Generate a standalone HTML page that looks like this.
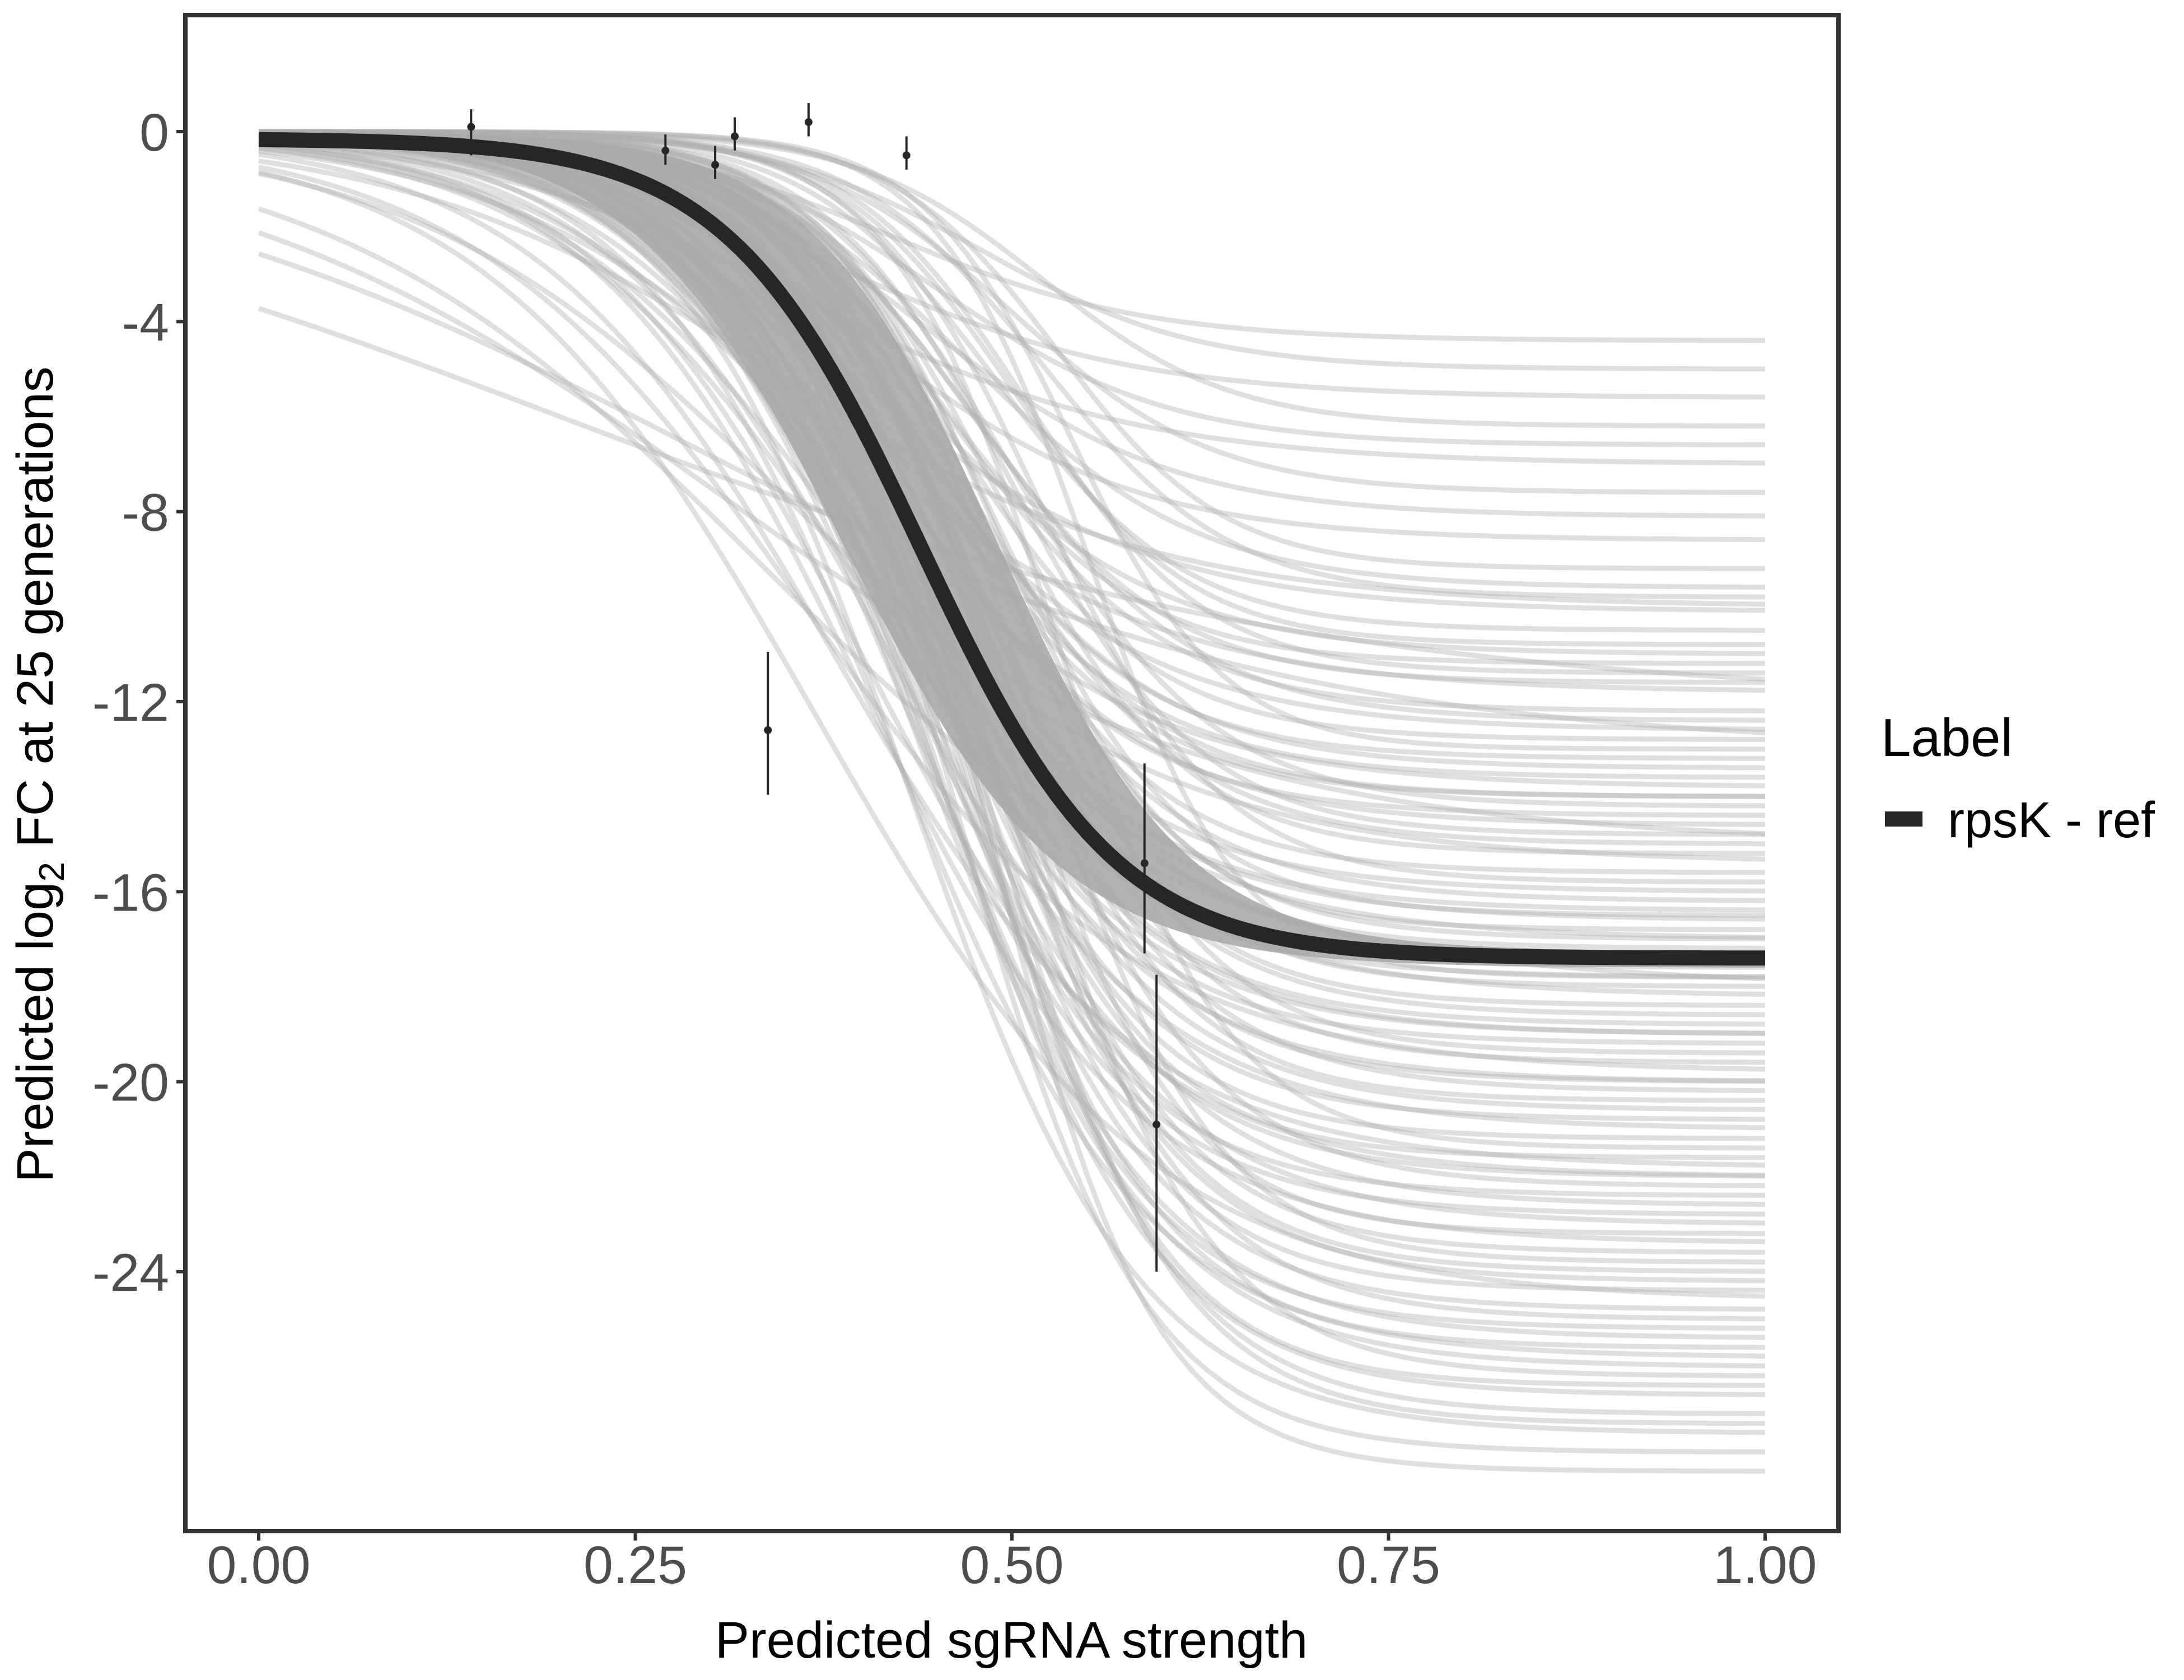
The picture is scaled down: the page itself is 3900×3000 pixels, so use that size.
<!DOCTYPE html>
<html><head><meta charset="utf-8"><style>
html,body{margin:0;padding:0;background:#fff}
svg{display:block}
text{font-family:"Liberation Sans",Arial,sans-serif}
</style></head><body>
<svg id="chart" width="3900" height="3000" viewBox="0 0 3900 3000" xmlns="http://www.w3.org/2000/svg">
<g id="lines"></g>
<g id="band"></g>
<g id="main"></g>
<g id="pts"></g>
<rect x="331" y="27" width="2952" height="2707" fill="none" stroke="#333" stroke-width="8"/>
<g id="axes"></g>
<text x="1806" y="2960" font-size="92" text-anchor="middle" fill="#000">Predicted sgRNA strength</text>
<text transform="translate(94,1383) rotate(-90)" font-size="92" text-anchor="middle" fill="#000">Predicted  log<tspan font-size="64" dy="20">2</tspan><tspan dy="-20"> FC at 25 generations</tspan></text>
<text x="3359" y="1350" font-size="96" fill="#000">Label</text>
<rect x="3366" y="1449" width="67" height="27" fill="#262626"/>
<text x="3478" y="1495" font-size="90" fill="#000">rpsK - ref</text>
</svg>
<script>
const xTicks=[0,0.25,0.5,0.75,1];
const xTickLabels=["0.00","0.25","0.50","0.75","1.00"];
const yTicks=[0,-4,-8,-12,-16,-20,-24];
const yTickLabels=["0","-4","-8","-12","-16","-20","-24"];
const curveA=[-4.4,-5.0,-5.6,-6.2,-6.6,-7.0,-7.6,-8.1,-8.6,-9.2,-9.6,-10.1,-10.5,-11.0,-11.4,-11.8,-12.2,-12.6,-13.0,-13.4,-13.8,-14.2,-14.6,-15.0,-15.4,-15.8,-16.2,-16.6,-17.0,-17.4,-17.8,-18.2,-18.6,-19.0,-19.4,-19.8,-20.2,-20.6,-21.0,-21.4,-21.8,-22.2,-22.6,-23.0,-23.4,-23.8,-24.2,-24.6,-25.0,-25.4,-25.8,-26.2,-26.6,-27.0,-27.4,-27.8,-28.2,-12.0,-15.0,-18.0,-20.0,-22.0,-14.0,-16.5,-19.0,-24.0,-26.0,-10.0,-13.0,-17.0,
-11.2,-12.4,-13.6,-14.8,-15.6,-16.0,-16.8,-17.6,-18.4,-19.2,-20.4,-21.2,-22.4,-23.2,-24.4,-25.2,-26.4,-12.8,-14.4,-15.2,-17.2,-18.8,-19.6,-20.8,-21.6,-22.8,-23.6,-24.8,-10.8,-13.2,-16.4,-18.0,-20.0,-22.0,-25.6,-27.2,-9.8,-11.6,-14.0,-17.8];
const curveM=[0.42,0.48,0.38,0.52,0.45,0.36,0.50,0.44,0.40,0.53,0.47,0.39,0.49,0.43,0.51,0.37,0.46,0.41,0.54,0.44,0.38,0.50,0.42,0.47,0.35,0.52,0.45,0.40,0.48,0.43,0.55,0.39,0.46,0.42,0.50,0.36,0.47,0.44,0.41,0.53,0.38,0.49,0.45,0.43,0.40,0.51,0.46,0.37,0.48,0.44,0.42,0.50,0.45,0.47,0.43,0.46,0.48,0.20,0.30,0.33,0.42,0.40,0.45,0.49,0.41,0.47,0.44,0.34,0.28,0.39,
0.45,0.48,0.43,0.50,0.46,0.41,0.49,0.44,0.47,0.42,0.48,0.45,0.43,0.49,0.46,0.44,0.47,0.46,0.42,0.49,0.45,0.43,0.48,0.44,0.46,0.42,0.47,0.45,0.50,0.44,0.41,0.47,0.45,0.43,0.46,0.48,0.52,0.47,0.44,0.42];
const curveK=[12,14,10,16,13,9,15,12,11,18,13,10,16,12,17,9,14,11,20,13,10,15,12,14,8,17,13,11,15,12,20,10,14,12,16,9,14,13,11,18,10,15,13,12,11,17,14,9,15,13,12,16,14,15,13,16,18,4,6,7,12,11,14,16,12,15,13,8,5,10,
15,14,13,16,15,12,17,14,15,13,16,15,14,17,15,14,16,15,13,16,14,13,15,14,16,13,15,14,17,14,12,15,14,13,15,16,16,15,14,13];
const bandA=[-17.25,-17.6];
const bandM=[0.49,0.39];
const bandK=[16,14];
const mainA=-17.25, mainM=0.44, mainK=15.5, mainOffset=-0.15;
const ptX=[0.141,0.27,0.303,0.316,0.365,0.43,0.338,0.588,0.596];
const ptY=[0.1,-0.4,-0.7,-0.1,0.2,-0.5,-12.6,-15.4,-20.9];
const ptLo=[-0.5,-0.7,-1.0,-0.4,-0.1,-0.8,-13.96,-17.3,-24.0];
const ptHi=[0.47,-0.06,-0.3,0.3,0.6,-0.1,-10.95,-13.3,-17.75];
const NS="http://www.w3.org/2000/svg";
const xs=v=>462+v*2690, ys=v=>235-v*84.83;
function mk(t,p,a){const e=document.createElementNS(NS,t);for(const k in a)e.setAttribute(k,a[k]);p.appendChild(e);return e;}
const lg=(A,k,m,x)=>A/(1+Math.exp(-k*(x-m)));
const lines=document.getElementById('lines');
for(let i=0;i<curveA.length;i++){let d="";for(let j=0;j<=100;j++){const x=j/100;const y=lg(curveA[i],curveK[i],curveM[i],x);d+=(j?"L":"M")+xs(x).toFixed(1)+","+ys(y).toFixed(1);}
const p=mk('path',lines,{d:d,fill:'none',stroke:'#b0b0b0','stroke-opacity':0.4,'stroke-width':9});

}
const band=document.getElementById('band');
let bd="";const N=100;
for(let j=0;j<=N;j++){const x=j/N;bd+=(j?"L":"M")+xs(x).toFixed(1)+","+ys(lg(bandA[0],bandK[0],bandM[0],x)).toFixed(1);}
for(let j=N;j>=0;j--){const x=j/N;bd+="L"+xs(x).toFixed(1)+","+ys(lg(bandA[1],bandK[1],bandM[1],x)).toFixed(1);}
bd+="Z";
const bp=mk('path',band,{d:bd,fill:'#aaaaaa','fill-opacity':0.9});


const main=document.getElementById('main');let d="";
for(let j=0;j<=200;j++){const x=j/200;const y=mainOffset+lg(mainA,mainK,mainM,x);d+=(j?"L":"M")+xs(x).toFixed(1)+","+ys(y).toFixed(1);}
const mp=mk('path',main,{d:d,fill:'none',stroke:'#262626','stroke-width':27});


const pts=document.getElementById('pts');
for(let i=0;i<ptX.length;i++){
const l=mk('line',pts,{x1:xs(ptX[i]),x2:xs(ptX[i]),y1:ys(ptLo[i]),y2:ys(ptHi[i]),stroke:'#262626','stroke-width':4});


const c=mk('circle',pts,{cx:xs(ptX[i]),cy:ys(ptY[i]),r:7,fill:'#262626'});

}
const ax=document.getElementById('axes');
xTicks.forEach((v,i)=>{const t=mk('line',ax,{x1:xs(v),x2:xs(v),y1:2738,y2:2751,stroke:'#333','stroke-width':6});


const l=mk('text',ax,{x:xs(v),y:2827,'font-size':95,'text-anchor':'middle',fill:'#4d4d4d'});l.textContent=xTickLabels[i];

});
yTicks.forEach((v,i)=>{const t=mk('line',ax,{x1:315,x2:328,y1:ys(v),y2:ys(v),stroke:'#333','stroke-width':6});


const l=mk('text',ax,{x:302,y:ys(v)+34,'font-size':95,'text-anchor':'end',fill:'#4d4d4d'});l.textContent=yTickLabels[i];

});
</script>
</body></html>
